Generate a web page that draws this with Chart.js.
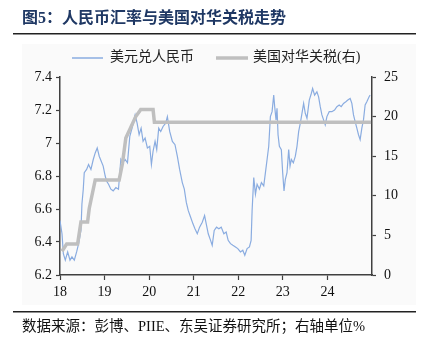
<!DOCTYPE html>
<html>
  <head>
    <meta charset="utf-8">
    <title>人民币汇率与美国对华关税走势</title>
    <script src="https://cdn.jsdelivr.net/npm/chart.js"></script>
    <style>
      body { margin: 0; background: #ffffff; }
      canvas { display: block; }
    </style>
  </head>
  <body>
    <canvas id="fxChart" width="433" height="347"></canvas>
    <script>
      // 美元兑人民币 (decimal year, rate)
      const usdYears = [2018.00, 2018.045, 2018.075, 2018.119, 2018.172, 2018.224, 2018.268, 2018.321, 2018.373, 2018.418,
        2018.470, 2018.492, 2018.522, 2018.544, 2018.597, 2018.641, 2018.694, 2018.746, 2018.790, 2018.835,
        2018.880, 2018.925, 2018.969, 2019.014, 2019.044, 2019.089, 2019.141, 2019.193, 2019.253, 2019.312,
        2019.365, 2019.402, 2019.462, 2019.514, 2019.566, 2019.626, 2019.685, 2019.730, 2019.775, 2019.820,
        2019.864, 2019.909, 2019.961, 2020.013, 2020.051, 2020.088, 2020.133, 2020.170, 2020.215, 2020.260,
        2020.312, 2020.371, 2020.409, 2020.461, 2020.521, 2020.580, 2020.632, 2020.684, 2020.744, 2020.789,
        2020.834, 2020.878, 2020.931, 2020.983, 2021.028, 2021.080, 2021.132, 2021.192, 2021.244, 2021.281,
        2021.326, 2021.378, 2021.415, 2021.460, 2021.512, 2021.564, 2021.617, 2021.676, 2021.728, 2021.773,
        2021.825, 2021.878, 2021.937, 2021.989, 2022.049, 2022.101, 2022.146, 2022.198, 2022.250, 2022.288,
        2022.310, 2022.347, 2022.385, 2022.422, 2022.474, 2022.519, 2022.571, 2022.609, 2022.646, 2022.683,
        2022.720, 2022.758, 2022.795, 2022.817, 2022.847, 2022.869, 2022.892, 2022.922, 2022.966, 2022.996,
        2023.026, 2023.056, 2023.093, 2023.131, 2023.161, 2023.190, 2023.235, 2023.280, 2023.317, 2023.355,
        2023.392, 2023.429, 2023.466, 2023.503, 2023.541, 2023.593, 2023.638, 2023.668, 2023.712, 2023.764,
        2023.802, 2023.839, 2023.876, 2023.914, 2023.951, 2023.988, 2024.040, 2024.100, 2024.160, 2024.212,
        2024.264, 2024.309, 2024.361, 2024.413, 2024.458, 2024.510, 2024.548, 2024.585, 2024.622, 2024.660,
        2024.697, 2024.734, 2024.772, 2024.809, 2024.846, 2024.884, 2024.935, 2024.958];
      const usdValues = [6.53, 6.45, 6.33, 6.29, 6.34, 6.29, 6.31, 6.29, 6.34, 6.39,
        6.47, 6.63, 6.72, 6.82, 6.84, 6.87, 6.84, 6.90, 6.94, 6.97,
        6.92, 6.89, 6.86, 6.80, 6.77, 6.75, 6.72, 6.71, 6.73, 6.72,
        6.90, 6.88, 6.90, 6.88, 7.04, 7.10, 7.17, 7.12, 7.05, 7.09,
        7.01, 7.03, 6.97, 6.98, 6.87, 6.95, 7.01, 6.96, 7.09, 7.07,
        7.10, 7.12, 7.16, 7.07, 7.01, 6.99, 6.92, 6.84, 6.76, 6.72,
        6.64, 6.59, 6.55, 6.51, 6.48, 6.45, 6.49, 6.52, 6.56, 6.51,
        6.45, 6.41, 6.38, 6.47, 6.49, 6.48, 6.49, 6.45, 6.46, 6.41,
        6.39, 6.38, 6.37, 6.36, 6.34, 6.35, 6.32, 6.36, 6.37, 6.41,
        6.59, 6.79, 6.69, 6.75, 6.72, 6.76, 6.74, 6.82, 6.90, 6.98,
        7.16, 7.19, 7.29, 7.22, 7.14, 7.21, 7.05, 6.98, 6.96, 6.82,
        6.71, 6.78, 6.82, 6.96, 6.86, 6.90, 6.88, 6.92, 6.98, 7.07,
        7.12, 7.18, 7.24, 7.18, 7.15, 7.26, 7.30, 7.33, 7.29, 7.31,
        7.28, 7.22, 7.17, 7.14, 7.11, 7.16, 7.19, 7.19, 7.20, 7.22,
        7.23, 7.22, 7.24, 7.25, 7.26, 7.27, 7.24, 7.17, 7.13, 7.09,
        7.05, 7.02, 7.09, 7.14, 7.23, 7.25, 7.28, 7.29];

      // 美国对华关税(右), %
      const tariffYears = [2018.045, 2018.149, 2018.395, 2018.470, 2018.619, 2018.656, 2018.790, 2019.327,
        2019.402, 2019.477, 2019.700, 2019.812, 2020.088, 2020.118, 2024.980];
      const tariffValues = [3.0, 3.9, 3.9, 6.7, 6.7, 8.4, 12.0, 12.0,
        14.1, 17.3, 20.0, 20.9, 20.9, 19.3, 19.3];

      const yearTicks = [2018, 2019, 2020, 2021, 2022, 2023, 2024];
      const leftTicks = [6.2, 6.4, 6.6, 6.8, 7.0, 7.2, 7.4];
      const rightTicks = [0, 5, 10, 15, 20, 25];

      const serif = "'Liberation Serif', 'Noto Sans CJK SC', serif";
      const blue = '#8aace0';
      const grey = '#bfbfbf';
      const axisColor = '#404040';

      const decor = {
        id: 'decor',
        beforeDraw(chart) {
          const c = chart.ctx;
          c.save();
          c.fillStyle = '#ffffff';
          c.fillRect(0, 0, chart.width, chart.height);
          c.fillStyle = '#fafafa';
          c.fillRect(22, 44, 394, 261);
          // title
          c.fillStyle = '#1f3864';
          c.font = "bold 16px 'Liberation Serif', 'Noto Sans CJK SC', serif";
          c.textBaseline = 'middle';
          c.fillText('图5：人民币汇率与美国对华关税走势', 22, 19);
          // rules
          c.fillStyle = '#222222';
          c.fillRect(13, 33, 403, 1.5);
          c.fillRect(13, 311, 403, 1.5);
          // source
          c.fillStyle = '#111111';
          c.font = '14.5px ' + serif;
          c.fillText('数据来源：彭博、PIIE、东吴证券研究所；右轴单位%', 22, 327);
          c.restore();
        },
        afterDraw(chart) {
          const c = chart.ctx;
          c.save();
          c.font = '14px ' + serif;
          c.textBaseline = 'middle';
          c.fillStyle = '#222222';
          c.strokeStyle = blue;
          c.lineWidth = 1.5;
          c.beginPath(); c.moveTo(72, 58); c.lineTo(103, 58); c.stroke();
          c.fillText('美元兑人民币', 110, 57);
          c.strokeStyle = grey;
          c.lineWidth = 3.5;
          c.beginPath(); c.moveTo(216, 58); c.lineTo(248, 58); c.stroke();
          c.fillText('美国对华关税(右)', 253, 57);
          c.restore();
        }
      };

      const ctx = document.getElementById('fxChart').getContext('2d');
      new Chart(ctx, {
        type: 'line',
        data: {
          datasets: [
            {
              label: '美国对华关税(右)',
              data: tariffYears.map((x, i) => ({ x: x, y: tariffValues[i] })),
              yAxisID: 'y1',
              borderColor: grey,
              borderWidth: 3.5,
              pointRadius: 0,
              tension: 0,
              order: 0
            },
            {
              label: '美元兑人民币',
              data: usdYears.map((x, i) => ({ x: x, y: usdValues[i] })),
              yAxisID: 'y',
              borderColor: blue,
              borderWidth: 1.2,
              pointRadius: 0,
              tension: 0,
              order: 1
            }
          ]
        },
        options: {
          responsive: false,
          animation: false,
          layout: { padding: { top: 77 } },
          plugins: { legend: { display: false }, tooltip: { enabled: false } },
          scales: {
            x: {
              type: 'linear',
              min: 2018,
              max: 2025,
              afterBuildTicks: s => { s.ticks = yearTicks.map(v => ({ value: v })); },
              afterFit: s => { s.height = 72; },
              grid: { drawOnChartArea: false, tickLength: 5, color: axisColor, tickWidth: 1.2 },
              border: { color: axisColor, width: 1.5 },
              ticks: {
                color: '#111111',
                padding: 4,
                maxRotation: 0,
                font: { family: serif, size: 14 },
                callback: v => String(v).slice(2)
              }
            },
            y: {
              position: 'left',
              min: 6.2,
              max: 7.4,
              afterBuildTicks: s => { s.ticks = leftTicks.map(v => ({ value: v })); },
              afterFit: s => { s.width = 60; },
              grid: { drawOnChartArea: false, tickLength: 4, color: axisColor, tickWidth: 1.2 },
              border: { color: axisColor, width: 1.5 },
              ticks: {
                color: '#111111',
                padding: 4,
                font: { family: serif, size: 14 },
                callback: v => String(+v.toFixed(1))
              }
            },
            y1: {
              position: 'right',
              min: 0,
              max: 25,
              afterBuildTicks: s => { s.ticks = rightTicks.map(v => ({ value: v })); },
              afterFit: s => { s.width = 61; },
              grid: { drawOnChartArea: false, tickLength: 4, color: axisColor, tickWidth: 1.2 },
              border: { color: axisColor, width: 1.5 },
              ticks: {
                color: '#111111',
                padding: 8,
                font: { family: serif, size: 14 },
                callback: v => String(v)
              }
            }
          }
        },
        plugins: [decor]
      });
    </script>
  </body>
</html>
